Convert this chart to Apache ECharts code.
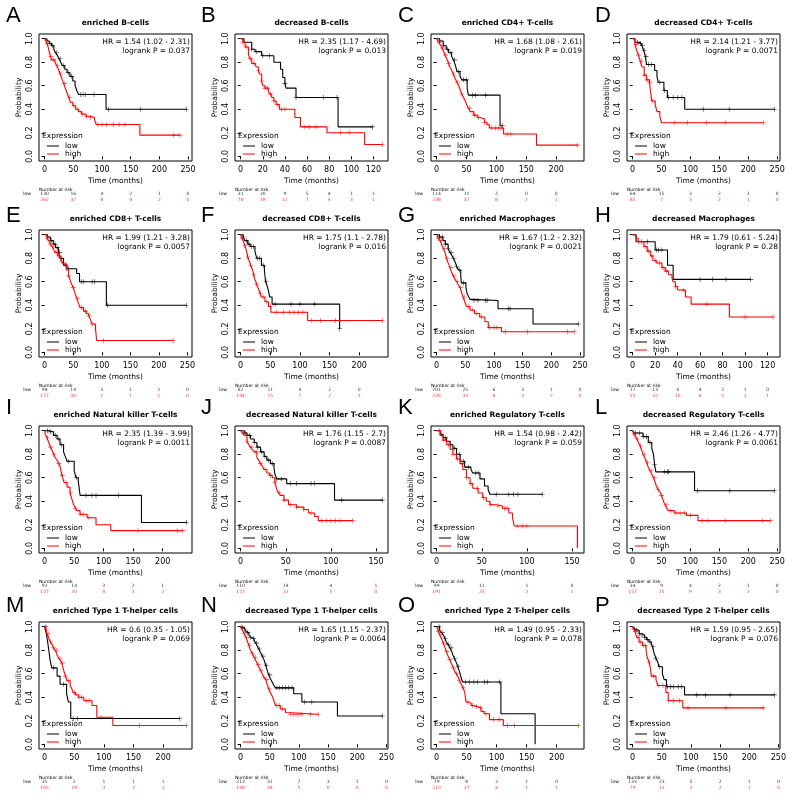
<!DOCTYPE html>
<html><head><meta charset="utf-8">
<script src="https://cdn.jsdelivr.net/npm/echarts@6/dist/echarts.min.js"></script>
<style>html,body{margin:0;padding:0;background:#fff}#c{width:793px;height:801px}</style>
</head><body><div id="c"></div>
<script>
const panelLetters = ['A','B','C','D','E','F','G','H','I','J','K','L','M','N','O','P'];
const panelTitles = ['enriched B-cells','decreased B-cells','enriched CD4+ T-cells','decreased CD4+ T-cells',
 'enriched CD8+ T-cells','decreased CD8+ T-cells','enriched Macrophages','decreased Macrophages',
 'enriched Natural killer T-cells','decreased Natural killer T-cells','enriched Regulatory T-cells','decreased Regulatory T-cells',
 'enriched Type 1 T-helper cells','decreased Type 1 T-helper cells','enriched Type 2 T-helper cells','decreased Type 2 T-helper cells'];
const hrTexts = ['HR = 1.54 (1.02 - 2.31)','HR = 2.35 (1.17 - 4.69)','HR = 1.68 (1.08 - 2.61)','HR = 2.14 (1.21 - 3.77)',
 'HR = 1.99 (1.21 - 3.28)','HR = 1.75 (1.1 - 2.78)','HR = 1.67 (1.2 - 2.32)','HR = 1.79 (0.61 - 5.24)',
 'HR = 2.35 (1.39 - 3.99)','HR = 1.76 (1.15 - 2.7)','HR = 1.54 (0.98 - 2.42)','HR = 2.46 (1.26 - 4.77)',
 'HR = 0.6 (0.35 - 1.05)','HR = 1.65 (1.15 - 2.37)','HR = 1.49 (0.95 - 2.33)','HR = 1.59 (0.95 - 2.65)'];
const pTexts = ['logrank P = 0.037','logrank P = 0.013','logrank P = 0.019','logrank P = 0.0071',
 'logrank P = 0.0057','logrank P = 0.016','logrank P = 0.0021','logrank P = 0.28',
 'logrank P = 0.0011','logrank P = 0.0087','logrank P = 0.059','logrank P = 0.0061',
 'logrank P = 0.069','logrank P = 0.0064','logrank P = 0.078','logrank P = 0.076'];
const T250=[0,50,100,150,200,250], T200=[0,50,100,150,200], T150=[0,50,100,150], T120=[0,20,40,60,80,100,120];
const xTicks = [T250,T120,T200,T250, T250,T200,T250,T120, T250,T150,T150,T250, T200,T250,T200,T250];
const timeMax = [247,128,237,245, 248,239,247,126, 240,157,157,245, 239,243,236,243];
const yTicks = [0,0.2,0.4,0.6,0.8,1.0];

const lowSteps = [
 [[0,1],[4,0.98],[8,0.96],[12,0.94],[16,0.91],[19,0.88],[22,0.86],[25,0.83],[28,0.80],[31,0.77],[35,0.74],[39,0.71],[44,0.68],[49,0.64],[53,0.60],[56,0.56],[59,0.525],[107,0.40]],
 [[0,1],[3,0.97],[10,0.91],[13,0.89],[19,0.855],[30,0.80],[36,0.74],[38,0.67],[40,0.62],[41,0.58],[50,0.50],[88,0.25]],
 [[0,1],[5,0.98],[11,0.94],[16,0.91],[20,0.88],[25,0.85],[28,0.82],[31,0.78],[34,0.72],[39,0.68],[42,0.65],[51,0.58],[53,0.52],[106,0.26]],
 [[0,1],[4,0.97],[13,0.96],[16,0.94],[19,0.90],[22,0.85],[24,0.78],[38,0.73],[42,0.68],[44,0.63],[54,0.56],[60,0.50],[90,0.40]],
 [[0,1],[5,0.98],[10,0.95],[15,0.92],[19,0.89],[24,0.85],[27,0.80],[33,0.74],[39,0.71],[56,0.67],[61,0.60],[108,0.40]],
 [[0,1],[4,0.98],[7,0.95],[12,0.92],[16,0.90],[24,0.86],[27,0.80],[35,0.74],[40,0.70],[42,0.60],[45,0.56],[47,0.52],[49,0.47],[53,0.41],[167,0.20]],
 [[0,1],[5,0.98],[11,0.95],[15,0.92],[20,0.88],[23,0.85],[26,0.83],[29,0.80],[32,0.77],[35,0.73],[38,0.70],[42,0.65],[43,0.59],[51,0.55],[53,0.50],[56,0.47],[58,0.45],[62,0.44],[107,0.37],[168,0.24]],
 [[0,1],[3,0.94],[20,0.87],[31,0.74],[36,0.62]],
 [[0,1],[7,0.99],[15,0.96],[21,0.93],[26,0.88],[32,0.82],[35,0.78],[38,0.74],[50,0.66],[53,0.60],[57,0.57],[60,0.45],[164,0.22]],
 [[0,1],[4,0.98],[7,0.96],[11,0.93],[15,0.90],[18,0.86],[22,0.82],[26,0.78],[29,0.75],[33,0.72],[37,0.68],[38,0.63],[40,0.59],[51,0.55],[104,0.41]],
 [[0,1],[4,0.97],[7,0.94],[11,0.91],[15,0.88],[18,0.85],[22,0.80],[26,0.74],[31,0.69],[38,0.67],[40,0.64],[48,0.59],[53,0.53],[57,0.50],[59,0.46]],
 [[0,1],[2,0.98],[18,0.95],[27,0.90],[33,0.85],[36,0.80],[38,0.71],[40,0.65],[107,0.49]],
 [[0,1],[3,0.94],[5,0.87],[7,0.80],[9,0.72],[12,0.65],[21,0.58],[26,0.51],[37,0.43],[40,0.36],[44,0.22]],
 [[0,1],[3,0.99],[6,0.98],[9,0.96],[11,0.95],[14,0.93],[17,0.91],[20,0.90],[23,0.88],[26,0.86],[28,0.84],[31,0.81],[34,0.78],[37,0.75],[40,0.72],[43,0.67],[46,0.62],[48,0.59],[51,0.56],[54,0.53],[57,0.50],[60,0.48],[91,0.43],[105,0.36],[166,0.24]],
 [[0,1],[5,0.97],[8,0.95],[11,0.93],[14,0.90],[16,0.87],[19,0.85],[22,0.82],[25,0.79],[27,0.76],[30,0.73],[33,0.69],[35,0.66],[38,0.62],[40,0.58],[43,0.53],[107,0.26],[164,0]],
 [[0,1],[3,0.98],[6,0.97],[11,0.94],[16,0.93],[20,0.91],[24,0.89],[28,0.87],[32,0.85],[34,0.83],[37,0.77],[40,0.73],[43,0.70],[45,0.66],[51,0.60],[54,0.55],[58,0.49],[89,0.42]]
];
const lowCensor = [
 [9,14,21,27,33,41,47,63,67,71,86,111,167,247],
 [10,14,20,26,40,50,75,87,119],
 [5,12,18,24,30,37,45,50,60,65,82,110],
 [8,13,17,20,23,27,33,46,55,62,70,78,85,122,167,245],
 [5,12,18,22,26,30,36,42,64,68,83,87,110,248],
 [5,10,14,18,22,28,32,38,43,58,85,100,125,167],
 [5,10,15,20,25,30,35,40,47,65,72,85,88,125,128,247],
 [13,21,23,26,60,71,83,105],
 [5,10,18,24,29,40,54,70,80,87,125,240],
 [5,10,15,19,23,27,31,35,40,45,55,62,78,82,112,157],
 [5,10,15,20,25,30,35,43,46,66,80,85,90,117],
 [5,12,18,24,30,38,55,60,62,112,168,245],
 [2,15,32,48,55,228],
 [3,7,12,17,22,27,32,38,44,50,62,67,72,77,82,88,110,122,243],
 [4,9,14,19,24,30,36,48,55,62,68,80,85,105],
 [3,7,12,16,21,25,30,35,40,46,60,65,70,78,84,110,125,167,243]
];
const highSteps = [
 [[0,1],[2,0.98],[4,0.96],[6,0.93],[8,0.89],[10,0.85],[12,0.82],[18,0.80],[21,0.77],[24,0.74],[27,0.70],[30,0.66],[33,0.62],[36,0.58],[39,0.54],[42,0.50],[45,0.46],[49,0.43],[54,0.40],[59,0.38],[64,0.36],[72,0.34],[80,0.33],[87,0.31],[90,0.27],[166,0.18]],
 [[0,1],[2,0.97],[4,0.93],[7,0.87],[8,0.83],[10,0.79],[13,0.78],[14,0.76],[16,0.73],[17,0.70],[19,0.64],[20,0.60],[22,0.58],[25,0.56],[26,0.53],[28,0.50],[30,0.47],[32,0.44],[35,0.40],[49,0.33],[54,0.25],[78,0.20],[112,0.10]],
 [[0,1],[3,0.97],[6,0.95],[9,0.92],[11,0.90],[14,0.86],[17,0.83],[20,0.79],[22,0.76],[25,0.73],[28,0.70],[31,0.66],[34,0.63],[37,0.60],[39,0.57],[42,0.53],[45,0.50],[48,0.47],[50,0.44],[53,0.41],[56,0.38],[62,0.35],[68,0.33],[73,0.32],[80,0.29],[84,0.27],[88,0.24],[112,0.19],[167,0.095]],
 [[0,1],[4,0.95],[7,0.90],[10,0.86],[13,0.81],[16,0.76],[20,0.69],[24,0.65],[29,0.63],[31,0.55],[33,0.47],[39,0.44],[42,0.38],[47,0.34],[50,0.285]],
 [[0,1],[4,0.97],[7,0.95],[10,0.92],[13,0.90],[16,0.87],[19,0.85],[23,0.82],[27,0.80],[30,0.77],[33,0.75],[38,0.70],[42,0.65],[45,0.61],[47,0.58],[50,0.55],[52,0.52],[54,0.49],[56,0.46],[59,0.42],[62,0.38],[68,0.35],[73,0.33],[77,0.31],[80,0.28],[83,0.24],[89,0.20],[91,0.10]],
 [[0,1],[2,0.97],[4,0.95],[7,0.91],[10,0.86],[12,0.81],[15,0.77],[17,0.74],[20,0.70],[22,0.66],[24,0.62],[27,0.58],[30,0.54],[33,0.50],[35,0.47],[41,0.43],[47,0.39],[51,0.34],[113,0.27]],
 [[0,1],[3,0.97],[6,0.95],[9,0.91],[12,0.88],[15,0.84],[17,0.80],[20,0.76],[23,0.72],[26,0.68],[29,0.65],[32,0.62],[35,0.60],[38,0.57],[41,0.55],[44,0.50],[46,0.47],[49,0.43],[52,0.39],[58,0.36],[66,0.33],[75,0.30],[84,0.26],[90,0.21],[113,0.175]],
 [[0,1],[3,0.97],[5,0.94],[10,0.90],[13,0.86],[16,0.82],[18,0.78],[21,0.76],[26,0.72],[29,0.69],[32,0.66],[35,0.63],[36,0.60],[38,0.56],[40,0.53],[47,0.47],[52,0.41],[86,0.30]],
 [[0,1],[1,0.97],[4,0.94],[7,0.90],[10,0.86],[13,0.83],[15,0.80],[18,0.77],[21,0.75],[24,0.72],[26,0.70],[28,0.65],[29,0.62],[31,0.59],[33,0.56],[38,0.52],[43,0.47],[46,0.42],[49,0.37],[52,0.34],[55,0.32],[60,0.29],[72,0.26],[87,0.20],[112,0.15]],
 [[0,1],[2,0.98],[4,0.96],[7,0.91],[9,0.88],[11,0.86],[13,0.84],[15,0.82],[18,0.77],[20,0.75],[22,0.72],[24,0.70],[26,0.67],[29,0.64],[32,0.62],[35,0.60],[38,0.56],[40,0.50],[42,0.47],[44,0.45],[48,0.41],[53,0.37],[62,0.35],[70,0.33],[75,0.30],[82,0.27],[86,0.235]],
 [[0,1],[4,0.96],[7,0.92],[11,0.88],[15,0.84],[18,0.80],[22,0.76],[26,0.72],[29,0.67],[33,0.60],[37,0.55],[40,0.51],[46,0.47],[51,0.43],[55,0.40],[59,0.37],[66,0.36],[73,0.34],[80,0.30],[84,0.26],[86,0.19],[156,0]],
 [[0,1],[2,0.97],[5,0.95],[7,0.93],[10,0.90],[13,0.87],[16,0.83],[18,0.80],[21,0.77],[24,0.73],[27,0.69],[30,0.66],[33,0.63],[36,0.60],[39,0.56],[41,0.53],[44,0.50],[47,0.48],[50,0.45],[52,0.42],[54,0.39],[56,0.37],[59,0.34],[62,0.32],[72,0.30],[93,0.28],[113,0.235]],
 [[0,1],[2,0.98],[4,0.94],[7,0.90],[10,0.87],[12,0.85],[15,0.82],[18,0.80],[21,0.76],[24,0.73],[27,0.71],[29,0.69],[32,0.63],[35,0.58],[38,0.54],[43,0.50],[46,0.47],[48,0.44],[52,0.42],[57,0.40],[66,0.37],[80,0.33],[88,0.23],[115,0.16]],
 [[0,1],[3,0.97],[6,0.94],[9,0.91],[12,0.87],[14,0.84],[17,0.80],[20,0.77],[23,0.74],[26,0.71],[29,0.68],[31,0.66],[34,0.63],[37,0.60],[40,0.57],[43,0.55],[46,0.50],[48,0.47],[51,0.44],[54,0.41],[57,0.37],[60,0.33],[68,0.30],[77,0.27],[80,0.255]],
 [[0,1],[3,0.96],[5,0.93],[8,0.90],[11,0.86],[14,0.82],[16,0.79],[19,0.75],[22,0.72],[25,0.68],[28,0.65],[30,0.62],[33,0.60],[36,0.57],[38,0.54],[41,0.51],[44,0.48],[46.5,0.45],[49,0.36],[53,0.35],[57.5,0.33],[62,0.32],[68.5,0.31],[74,0.28],[79,0.26],[88,0.21],[111,0.16]],
 [[0,1],[2,0.98],[4,0.96],[7,0.91],[11,0.87],[17,0.84],[23,0.80],[25,0.74],[28,0.70],[30,0.66],[32,0.58],[40,0.55],[43,0.50],[57,0.44],[61,0.37],[86,0.31]]
];
const highCensor = [
 [5,11,15,22,28,35,43,51,58,66,73,80,93,100,108,120,130,140,225,236],
 [2,5,9,12,16,19,22,24,27,30,33,37,40,58,62,68,90,98,128],
 [5,10,15,20,28,35,42,55,63,70,80,92,98,103,108,118,124,236],
 [6,10,15,20,25,30,35,73,95,128,160,226],
 [5,10,15,20,25,30,36,42,50,58,65,72,78,83,103,225],
 [3,7,12,17,22,27,33,38,44,50,60,72,82,90,97,105,120,135,160,239],
 [3,8,13,18,25,30,36,42,48,55,62,70,78,92,100,105,120,158,228,240],
 [5,8,11,14,17,20,24,27,30,38,45,66,100,125],
 [5,10,16,24,30,36,44,52,60,65,75,158,225,234],
 [3,7,12,17,22,27,33,38,43,48,55,62,70,78,90,95,100,105,110,124],
 [3,8,13,18,23,28,33,38,45,52,60,68,75,78,90,95,100],
 [3,8,14,20,26,32,38,44,50,58,65,75,82,90,100,120,130,160,225,238],
 [3,6,10,15,20,26,30,35,40,50,58,62,70,75,95,160,239],
 [2,6,10,15,20,25,30,35,40,45,50,62,66,72,85,90,95,100,105,120,133],
 [3,7,12,17,22,28,33,38,44,52,60,66,73,82,95,104,118,130,236],
 [2,5,9,13,18,22,28,36,45,52,62,70,80,95,160,224]
];
const lowRisk = [
 [130,16,4,2,1,0],[31,20,9,5,4,1,1],[114,11,2,0,0],[64,15,3,2,1,0],
 [98,14,3,1,1,0],[82,11,4,2,0],[201,25,6,3,1,0],[17,13,4,4,2,1,0],
 [92,14,3,2,1,0],[110,14,4,1],[99,11,1,0],[34,9,4,2,1,0],
 [35,2,1,1,1],[213,31,7,3,1,0],[79,8,2,1,0],[133,23,5,2,1,0]
];
const highRisk = [
 [262,37,8,4,2,0],[78,39,12,7,4,3,1],[238,37,8,2,1],[85,7,3,2,1,0],
 [177,30,2,1,1,0],[144,15,7,2,1],[228,33,8,3,2,0],[55,32,10,6,5,1,1],
 [127,20,4,3,2,0],[172,22,5,0],[191,25,2,1],[157,25,9,3,2,0],
 [105,19,3,2,1],[148,18,5,0,0,0],[210,27,6,1,1],[79,12,3,2,1,0]
];
const groupNames = ['low','high'];
const groupColors = ['#000000','#ff0000'];

const FONT = 'DejaVu Sans';
const W = 153, H = 127;
const colLeft = c => 39 + c*196;
const rowTop = r => 34 + r*196;
const letterX = [6,201,398,595];
const letterY = [16,216,408,606];
const PLUS = 'path://M-0.12,-1H0.12V-0.12H1V0.12H0.12V1H-0.12V0.12H-1V-0.12H-0.12Z';

function stepVal(steps, t){ let v = steps[0][1]; for (const p of steps){ if (p[0] <= t) v = p[1]; else break; } return v; }

const chart = echarts.init(document.getElementById('c'), null, {renderer:'canvas'});
const grid=[], xAxis=[], yAxis=[], series=[], graphic=[];

for (let i=0;i<16;i++){
  const c=i%4, r=Math.floor(i/4);
  const L=colLeft(c), T=rowTop(r), tmax=timeMax[i];
  grid.push({left:L, top:T, width:W, height:H, show:true, borderColor:'#000', borderWidth:1, backgroundColor:'transparent'});
  const g = grid.length-1;
  xAxis.push({type:'value', gridIndex:g, min:-0.04*tmax, max:1.04*tmax,
    axisLine:{show:false}, splitLine:{show:false},
    axisTick:{show:true, length:3, customValues:xTicks[i], lineStyle:{color:'#000', width:1}},
    axisLabel:{customValues:xTicks[i], fontFamily:FONT, fontSize:8, color:'#000', margin:5},
    name:'Time (months)', nameLocation:'middle', nameGap:16,
    nameTextStyle:{fontFamily:FONT, fontSize:7.5, color:'#000'}});
  yAxis.push({type:'value', gridIndex:g, min:-0.04, max:1.04,
    axisLine:{show:false}, splitLine:{show:false},
    axisTick:{show:true, length:3, customValues:yTicks, lineStyle:{color:'#000', width:1}},
    axisLabel:{customValues:yTicks, rotate:90, fontFamily:FONT, fontSize:8, color:'#000', margin:5,
      formatter:v=>Number(v).toFixed(1)},
    name:'Probability', nameLocation:'middle', nameRotate:90, nameGap:16,
    nameTextStyle:{fontFamily:FONT, fontSize:7.5, color:'#000'}});
  const groups = [[lowSteps[i], lowCensor[i]], [highSteps[i], highCensor[i]]];
  groups.forEach(([steps, cens], k) => {
    const last = steps[steps.length-1];
    const tEnd = Math.max(last[0], cens.length ? cens[cens.length-1] : 0);
    const lineData = steps.slice();
    if (tEnd > last[0]) lineData.push([tEnd, last[1]]);
    series.push({type:'line', name:groupNames[k], xAxisIndex:g, yAxisIndex:g, data:lineData, step:'end',
      symbol:'none', lineStyle:{color:groupColors[k], width:1.1}, silent:true, z:2+k});
    series.push({type:'scatter', name:groupNames[k], xAxisIndex:g, yAxisIndex:g,
      data:cens.map(t=>[t, stepVal(steps,t)]), symbol:PLUS, symbolSize:5,
      itemStyle:{color:groupColors[k]}, silent:true, z:2+k});
  });
  grid.push({left:L, top:T+157.5, width:W, height:11, show:false});
  const g2 = grid.length-1;
  xAxis.push({type:'value', gridIndex:g2, min:-0.04*tmax, max:1.04*tmax, show:false});
  yAxis.push({type:'category', gridIndex:g2, data:groupNames, inverse:true,
    axisLine:{show:false}, axisTick:{show:false}, splitLine:{show:false},
    axisLabel:{fontFamily:FONT, fontSize:4.5, margin:8, color:(v)=>v==='low'?'#000':'#ff0000'}});
  [lowRisk[i], highRisk[i]].forEach((vals,k)=>{
    series.push({type:'scatter', xAxisIndex:g2, yAxisIndex:g2, symbolSize:1,
      itemStyle:{color:'rgba(0,0,0,0)'}, silent:true,
      data:xTicks[i].map((t,j)=>[t, groupNames[k], vals[j]]),
      label:{show:true, position:'inside', formatter:p=>String(p.value[2]), fontFamily:FONT, fontSize:4.5, color:groupColors[k]}});
  });
  const txt = (x,y,text,font,fill,align,va) => graphic.push({type:'text', x, y, silent:true,
    style:{text, font, fill, align, verticalAlign:va||'middle', textAlign:align, textVerticalAlign:va||'middle'}});
  txt(letterX[c], letterY[r], panelLetters[i], '22px "Liberation Sans"', '#000', 'left');
  txt(L+W/2, T-11, panelTitles[i], 'bold 7.5px "DejaVu Sans"', '#000', 'center');
  txt(L+W-2, T+8, hrTexts[i], '7.5px "DejaVu Sans"', '#000', 'right');
  txt(L+W-2, T+17, pTexts[i], '7.5px "DejaVu Sans"', '#000', 'right');
  txt(L+3, T+102, 'Expression', '7.5px "DejaVu Sans"', '#000', 'left');
  groupNames.forEach((nm,k)=>{
    graphic.push({type:'line', silent:true, shape:{x1:L+8, y1:T+112+8*k, x2:L+20, y2:T+112+8*k},
      style:{stroke:groupColors[k], lineWidth:1}});
    txt(L+26, T+112+8*k, nm, '7.5px "DejaVu Sans"', '#000', 'left');
  });
  txt(L, T+156, 'Number at risk', '4.5px "DejaVu Sans"', '#000', 'left');
}

chart.setOption({animation:false, backgroundColor:'#fff', grid, xAxis, yAxis, series, graphic});
</script></body></html>
